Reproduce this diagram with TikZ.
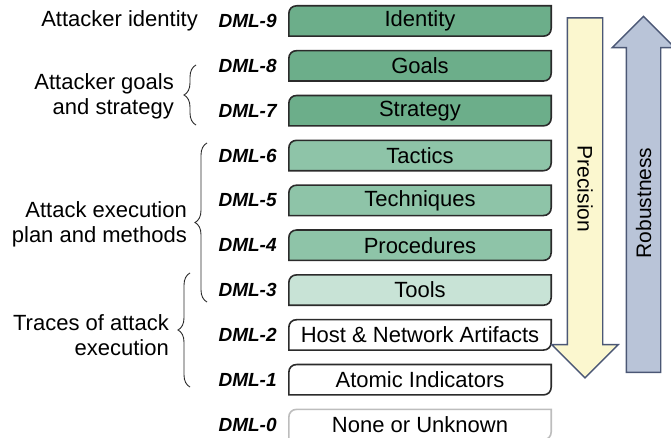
\documentclass[tikz,border=0pt]{standalone}
\usepackage{fontspec}
\setmainfont{Liberation Sans}
\usetikzlibrary{positioning,shapes.arrows,decorations.pathreplacing}
\definecolor{dmlDark}{HTML}{6CAE8A}
\definecolor{dmlMid}{HTML}{8EC4A8}
\definecolor{dmlLight}{HTML}{C8E3D6}
\definecolor{dmlEdge}{HTML}{2B2B2B}
\definecolor{dmlFaint}{HTML}{BDBDBD}
\definecolor{precFill}{HTML}{FBF7CF}
\definecolor{robFill}{HTML}{B9C4D8}
\definecolor{arrEdge}{HTML}{4B5775}

\tikzset{
  lvl/.style 2 args={minimum width=264pt,minimum height=32pt,inner sep=0pt,
    font=\fontsize{22}{25}\selectfont,
    path picture={\draw[draw=#2,fill=#1,line width=1.6pt]
      ([shift={(0.8pt,0.8pt)}]path picture bounding box.south west)
      -- ([shift={(0.8pt,-8.8pt)}]path picture bounding box.north west)
      .. controls ([shift={(0.8pt,-4pt)}]path picture bounding box.north west)
      and ([shift={(4pt,-0.8pt)}]path picture bounding box.north west)
      .. ([shift={(8.8pt,-0.8pt)}]path picture bounding box.north west)
      -- ([shift={(-0.8pt,-0.8pt)}]path picture bounding box.north east)
      -- ([shift={(-0.8pt,8.8pt)}]path picture bounding box.south east)
      .. controls ([shift={(-0.8pt,4pt)}]path picture bounding box.south east)
      and ([shift={(-4pt,0.8pt)}]path picture bounding box.south east)
      .. ([shift={(-8.8pt,0.8pt)}]path picture bounding box.south east)
      -- cycle;}},
  dml/.style={inner sep=0pt,font=\fontsize{19}{22}\selectfont\bfseries\itshape},
  side/.style={inner sep=0pt,align=right,anchor=east,font=\fontsize{22}{25}\selectfont},
  brc/.style={decorate,decoration={brace,amplitude=12pt},draw=dmlEdge,line width=0.9pt},
}

\begin{document}
\begin{tikzpicture}[x=1pt,y=-1pt,node distance=12.44pt]
  \useasboundingbox (0,0) rectangle (671,438);
  % levels
  \node[lvl={dmlDark}{dmlEdge}] (identity) at (420,21) {Identity};
  \node[lvl={dmlDark}{dmlEdge},below=of identity] (goals) {Goals};
  \node[lvl={dmlDark}{dmlEdge},below=of goals] (strategy) {Strategy};
  \node[lvl={dmlMid}{dmlEdge},below=of strategy] (tactics) {Tactics};
  \node[lvl={dmlMid}{dmlEdge},below=of tactics] (techniques) {Techniques};
  \node[lvl={dmlMid}{dmlEdge},below=of techniques] (procedures) {Procedures};
  \node[lvl={dmlLight}{dmlEdge},below=of procedures] (tools) {Tools};
  \node[lvl={white}{dmlEdge},below=of tools] (artifacts) {Host \& Network Artifacts};
  \node[lvl={white}{dmlEdge},below=of artifacts] (atomic) {Atomic Indicators};
  \node[lvl={white}{dmlFaint},below=of atomic] (unknown) {None or Unknown};
  % level numbers
  \node[dml,left=11pt of identity] (dml9) {DML-9};
  \node[dml,left=11pt of goals] (dml8) {DML-8};
  \node[dml,left=11pt of strategy] (dml7) {DML-7};
  \node[dml,left=11pt of tactics] (dml6) {DML-6};
  \node[dml,left=11pt of techniques] (dml5) {DML-5};
  \node[dml,left=11pt of procedures] (dml4) {DML-4};
  \node[dml,left=11pt of tools] (dml3) {DML-3};
  \node[dml,left=11pt of artifacts] (dml2) {DML-2};
  \node[dml,left=11pt of atomic] (dml1) {DML-1};
  \node[dml,left=11pt of unknown] (dml0) {DML-0};
  % groups
  \node[side] (who) at (198,21) {Attacker identity};
  \node[side] (aims) at (174,96) {Attacker goals\\and strategy};
  \node[side] (plan) at (187,224) {Attack execution\\plan and methods};
  \node[side] (traces) at (169,335) {Traces of attack\\execution};
  \draw[brc] (196,125) -- (196,65);
  \draw[brc] (207,302) -- (207,143);
  \draw[brc] (190,387) -- (190,273);
  % trends
  \node[single arrow,rotate=-90,draw=arrEdge,fill=precFill,line width=1.4pt,
    minimum height=360pt,text height=15pt,text depth=0pt,inner xsep=0pt,inner ysep=9.5pt,
    single arrow head extend=15.5pt,font=\fontsize{21}{24}\selectfont] (precision) at (585,189) {Precision};
  \node[single arrow,rotate=90,draw=arrEdge,fill=robFill,line width=1.4pt,
    minimum height=356pt,text height=15pt,text depth=0pt,inner xsep=0pt,inner ysep=9pt,
    single arrow head extend=14pt,font=\fontsize{21}{24}\selectfont] (robustness) at (643.5,203) {Robustness};
\end{tikzpicture}
\end{document}
